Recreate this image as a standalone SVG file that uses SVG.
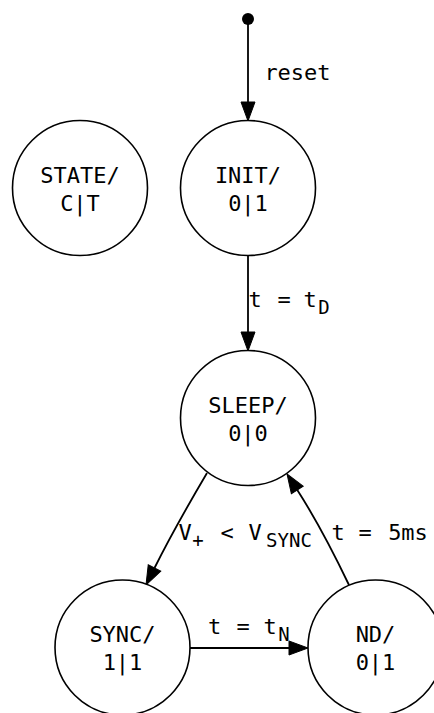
<svg xmlns="http://www.w3.org/2000/svg" width="434" height="713" viewBox="0 0 434 713">
  <style>
    .state circle { fill: #ffffff; stroke: #000000; stroke-width: 1.6; }
    .lbl { font-family: "DejaVu Sans Mono", "Liberation Mono", monospace; font-size: 22px; fill: #000000; text-anchor: middle; }
    .sub { font-size: 19px; }
    .edge { fill: none; stroke: #000000; stroke-width: 1.8; }
  </style>
  <defs>
    <marker id="arrow" markerUnits="userSpaceOnUse" viewBox="0 -8 20 16" markerWidth="20" markerHeight="16" refX="0" refY="0" orient="auto" overflow="visible">
      <path d="M0,-7 L19,0 L0,7 Z" fill="#000000" stroke="#000000" stroke-width="1"/>
    </marker>
  </defs>
  <rect x="0" y="0" width="434" height="713" fill="#ffffff"/>

  <!-- transitions -->
  <g id="edges">
    <circle id="start" cx="248" cy="19" r="6" fill="#000000"/>
    <path class="edge" d="M248,24 L248,102" marker-end="url(#arrow)"/>
    <text class="lbl" x="297.5" y="80">reset</text>

    <path class="edge" d="M248,255.5 L248,332" marker-end="url(#arrow)"/>
    <text class="lbl" y="307"><tspan x="255">t</tspan><tspan x="284">=</tspan><tspan x="310">t</tspan><tspan class="sub" x="324" y="314">D</tspan></text>

    <path class="edge" d="M207,473 Q174.5,528 154.5,568" marker-end="url(#arrow)"/>
    <text class="lbl" y="540"><tspan x="185">V</tspan><tspan class="sub" x="198" y="547">+</tspan><tspan x="227" y="540">&lt;</tspan><tspan x="255">V</tspan><tspan class="sub" x="289" y="547">SYNC</tspan></text>

    <path class="edge" d="M349,585 Q321.6,527.8 297.3,490" marker-end="url(#arrow)"/>
    <text class="lbl" y="540"><tspan x="338">t</tspan><tspan x="365">=</tspan><tspan x="408">5ms</tspan></text>

    <path class="edge" d="M190,648 L289,648" marker-end="url(#arrow)"/>
    <text class="lbl" y="634"><tspan x="214.5">t</tspan><tspan x="243">=</tspan><tspan x="270">t</tspan><tspan class="sub" x="284" y="641">N</tspan></text>
  </g>

  <!-- states: NAME/ outputs -->
  <g id="STATE" class="state">
    <circle cx="80" cy="188" r="67.5"/>
    <text class="lbl" x="80" y="182.5">STATE/</text>
    <text class="lbl" x="80" y="210.5">C|T</text>
  </g>
  <g id="INIT" class="state">
    <circle cx="248" cy="188" r="67.5"/>
    <text class="lbl" x="248" y="182.5">INIT/</text>
    <text class="lbl" x="248" y="210.5">0|1</text>
  </g>
  <g id="SLEEP" class="state">
    <circle cx="248" cy="418" r="67.5"/>
    <text class="lbl" x="248" y="412.5">SLEEP/</text>
    <text class="lbl" x="248" y="440.5">0|0</text>
  </g>
  <g id="SYNC" class="state">
    <circle cx="122.5" cy="647.5" r="67.5"/>
    <text class="lbl" x="122.5" y="642">SYNC/</text>
    <text class="lbl" x="122.5" y="670">1|1</text>
  </g>
  <g id="ND" class="state">
    <circle cx="375.5" cy="647.5" r="67.5"/>
    <text class="lbl" x="375.5" y="642">ND/</text>
    <text class="lbl" x="375.5" y="670">0|1</text>
  </g>
</svg>
